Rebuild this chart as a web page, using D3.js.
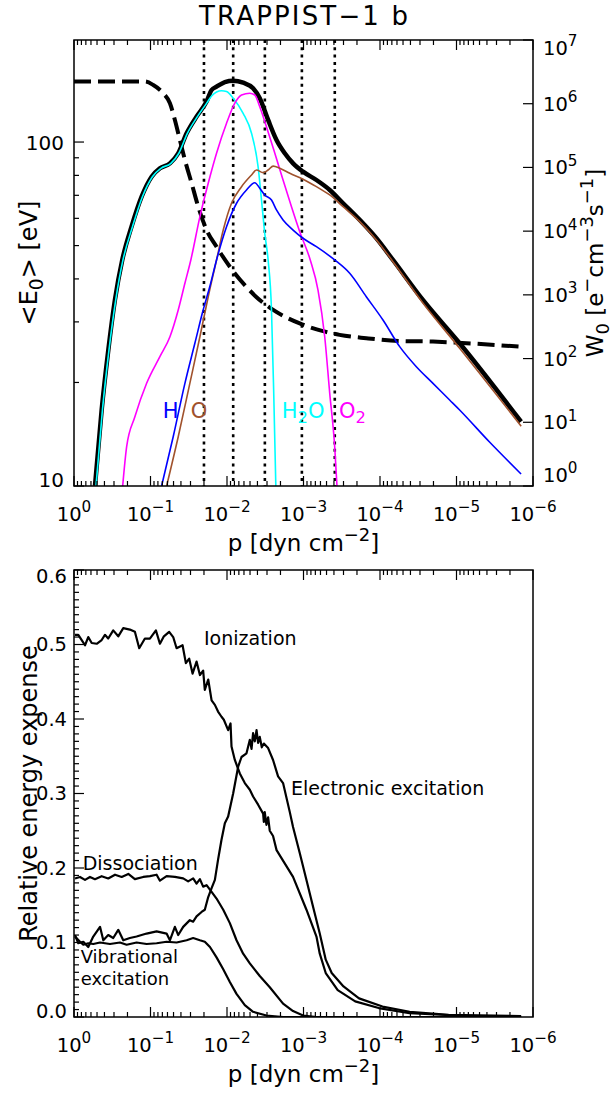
<!DOCTYPE html>
<html lang="en">
<head>
<meta charset="UTF-8">
<title>TRAPPIST-1 b</title>
<script src="https://cdnjs.cloudflare.com/ajax/libs/d3/7.8.5/d3.min.js"></script>
<style>
  body { margin: 0; background: #fff; }
  svg { display: block; font-family: "DejaVu Sans", sans-serif; }
</style>
</head>
<body>
<svg id="chart" width="612" height="1095"></svg>
<script>
// ---------- data (pressure in dyn cm^-2) ----------
const pressureMajor = [1, 1e-1, 1e-2, 1e-3, 1e-4, 1e-5, 1e-6];
const pressureExp = ["0", "\u22121", "\u22122", "\u22123", "\u22124", "\u22125", "\u22126"];
const energyTicks = [10, 100];
const rateTicks = [1, 1e1, 1e2, 1e3, 1e4, 1e5, 1e6, 1e7];
const rateExp = ["0", "1", "2", "3", "4", "5", "6", "7"];
const fractionTicks = [0, 0.1, 0.2, 0.3, 0.4, 0.5, 0.6];
const layerPressures = [0.02, 0.0083, 0.0032, 0.00105, 0.00039];

// mean electron energy <E0> [eV]  (dashed, left axis)
const meanEnergy = [
  [1, 150], [0.2, 150], [0.118, 150], [0.092, 146.5], [0.0682, 138.6], [0.0557, 129.6],
  [0.048, 115.9], [0.0413, 101.4], [0.0355, 88.7], [0.029, 75.9], [0.0238, 64.9],
  [0.0185, 55.5], [0.0137, 49.6], [0.00918, 43.4], [0.00556, 37.9], [0.00411, 35.4],
  [0.00249, 32.5], [0.00112, 29.7], [0.000555, 28.2], [0.000337, 27.5], [0.000151, 26.9],
  [5.53e-5, 26.4], [2.03e-5, 26.3], [9.6e-6, 26.1], [1.43e-6, 25.4]
];

// production rates W0 [e- cm^-3 s^-1]  (right axis)
const totalRate = [
  [0.532, 1.0], [0.435, 15.6], [0.356, 136], [0.292, 830], [0.234, 3530], [0.177, 11750],
  [0.1306, 34750], [0.0967, 71600], [0.0753, 97000], [0.0557, 116000], [0.0434, 167000],
  [0.0337, 343000], [0.025, 627000], [0.0185, 1.08e6], [0.0159, 1.64e6], [0.0137, 1.85e6],
  [0.01067, 2.19e6], [0.0083, 2.30e6], [0.00615, 2.14e6], [0.00456, 1.75e6], [0.00373, 1.22e6],
  [0.0029, 556000], [0.002255, 270000], [0.001757, 167000], [0.001368, 116000],
  [0.001014, 85800], [0.000678, 63500], [0.000454, 44300], [0.000304, 27400],
  [0.000184, 15000], [0.0001114, 7730], [6.77e-5, 3530], [2.75e-5, 830], [9.1e-6, 174],
  [1.43e-6, 10.2]
];
const h2oRate = [
  [0.516, 1], [0.425, 15.6], [0.349, 136], [0.285, 830], [0.229, 3530], [0.172, 11750],
  [0.1276, 34750], [0.0944, 71600], [0.0731, 97000], [0.0541, 116000], [0.0426, 167000],
  [0.033, 343000], [0.0244, 627000], [0.01834, 1.03e6], [0.0159, 1.32e6], [0.0137, 1.53e6],
  [0.01178, 1.60e6], [0.01014, 1.55e6], [0.0083, 1.22e6], [0.00615, 7.08e5], [0.00478, 3.44e5],
  [0.00392, 1.02e5], [0.00354, 3.08e4], [0.00321, 9250], [0.0029, 3530], [0.00262, 578],
  [0.00245, 28.5], [0.0023, 1]
];
const o2Rate = [
  [0.231, 1], [0.205, 4.14], [0.16, 12.2], [0.1124, 40.9], [0.0754, 107], [0.0557, 220],
  [0.0434, 578], [0.0355, 1520], [0.0297, 3530], [0.0226, 16900], [0.0176, 56400],
  [0.0137, 167000], [0.01014, 493000], [0.0079, 1.02e6], [0.00646, 1.37e6], [0.00503, 1.46e6],
  [0.00433, 1.37e6], [0.00373, 8.98e5], [0.00305, 4.36e5], [0.00237, 1.67e5], [0.00185, 6.35e4],
  [0.001436, 2.42e4], [0.00112, 9820], [0.000816, 3530], [0.000646, 1190], [0.000528, 220],
  [0.000454, 28.5], [0.000391, 4.14], [0.000365, 1]
];
const hRate = [
  [0.0716, 1], [0.0505, 5.94], [0.0355, 40.9], [0.0263, 174], [0.0205, 578], [0.0168, 1340],
  [0.0137, 3530], [0.01014, 11750], [0.0075, 27400], [0.00556, 44300], [0.00433, 57600],
  [0.00373, 47100], [0.00321, 37000], [0.00262, 30800], [0.002255, 21500], [0.00185, 15000],
  [0.001368, 10400], [0.001014, 7730], [0.000678, 5700], [0.000391, 3530], [0.000249, 2180],
  [0.000151, 935], [9.14e-5, 403], [5.53e-5, 154], [3.35e-5, 74.6], [2.03e-5, 40.9],
  [1.23e-5, 22.4], [9.1e-6, 15.6], [3.7e-6, 4.9], [1.43e-6, 1.54]
];
const oRate = [
  [0.0616, 1], [0.0434, 5.94], [0.0306, 40.9], [0.0226, 220], [0.0176, 935], [0.0137, 3530],
  [0.0112, 10400], [0.00873, 27400], [0.00646, 49900], [0.00478, 76100], [0.00411, 91200],
  [0.00337, 82800], [0.0029, 91200], [0.00249, 105000], [0.00204, 97000], [0.00151, 80900],
  [0.001014, 65200], [0.000678, 49900], [0.000454, 37000], [0.000304, 24200], [0.000184, 14100],
  [0.0001114, 7270], [6.77e-5, 3320], [2.75e-5, 745], [9.1e-6, 145], [1.43e-6, 8.7]
];

// relative energy expense (bottom panel)
const ionization = [
  [0.970, 0.513], [0.879, 0.513], [0.793, 0.506], [0.718, 0.499], [0.651, 0.510], [0.587, 0.502],
  [0.505, 0.501], [0.435, 0.506], [0.394, 0.513], [0.357, 0.508], [0.307, 0.519], [0.264, 0.511],
  [0.227, 0.522], [0.186, 0.520], [0.160, 0.517], [0.1404, 0.495], [0.1183, 0.508], [0.1018, 0.508],
  [0.0850, 0.519], [0.0753, 0.501], [0.0668, 0.511], [0.0570, 0.517], [0.0505, 0.510], [0.0456, 0.495],
  [0.0381, 0.499], [0.0345, 0.475], [0.0312, 0.481], [0.0282, 0.461], [0.0250, 0.477], [0.0226, 0.459],
  [0.0205, 0.465], [0.0195, 0.439], [0.0176, 0.453], [0.0159, 0.425], [0.0144, 0.419], [0.0131, 0.410],
  [0.0118, 0.403], [0.0110, 0.399], [0.00966, 0.385], [0.00899, 0.394], [0.00873, 0.363],
  [0.00790, 0.345], [0.00680, 0.327], [0.00585, 0.314], [0.00503, 0.305], [0.00456, 0.296],
  [0.00392, 0.285], [0.00337, 0.273], [0.00330, 0.262], [0.00321, 0.275], [0.00305, 0.258],
  [0.00290, 0.268], [0.00276, 0.250], [0.00250, 0.243], [0.00225, 0.224], [0.00137, 0.188],
  [0.000915, 0.144], [0.000677, 0.108], [0.000613, 0.085], [0.000512, 0.059], [0.000357, 0.036],
  [0.000211, 0.021], [0.000104, 0.012], [4.10e-5, 0.005], [6.95e-6, 0.0013], [1.43e-6, 0.0005]
];
const electronic = [
  [0.970, 0.110], [0.879, 0.099], [0.756, 0.101], [0.651, 0.094], [0.560, 0.108], [0.457, 0.121],
  [0.414, 0.103], [0.357, 0.110], [0.307, 0.106], [0.264, 0.117], [0.227, 0.103], [0.186, 0.106],
  [0.152, 0.108], [0.1124, 0.112], [0.0832, 0.115], [0.0616, 0.112], [0.0558, 0.103], [0.0480, 0.121],
  [0.0434, 0.110], [0.0374, 0.121], [0.0306, 0.130], [0.0277, 0.128], [0.0250, 0.135], [0.0215, 0.141],
  [0.0195, 0.144], [0.0176, 0.161], [0.0159, 0.173], [0.0144, 0.184], [0.0131, 0.211], [0.0118, 0.238],
  [0.01067, 0.260], [0.00966, 0.269], [0.00831, 0.300], [0.00715, 0.336], [0.00646, 0.349],
  [0.00556, 0.354], [0.00503, 0.372], [0.00478, 0.360], [0.00456, 0.381], [0.00433, 0.370],
  [0.00411, 0.385], [0.00392, 0.368], [0.00373, 0.376], [0.00351, 0.362], [0.00330, 0.367],
  [0.00290, 0.361], [0.00250, 0.345], [0.00215, 0.323], [0.00185, 0.314], [0.00151, 0.275],
  [0.00137, 0.255], [0.00112, 0.220], [0.000915, 0.184], [0.000750, 0.148], [0.000613, 0.112],
  [0.000512, 0.077], [0.000428, 0.059], [0.000300, 0.041], [0.000188, 0.025], [9.28e-5, 0.014],
  [4.10e-5, 0.007], [1.27e-5, 0.003], [1.43e-6, 0.0013]
];
const dissociation = [
  [0.970, 0.186], [0.835, 0.188], [0.718, 0.184], [0.618, 0.188], [0.532, 0.185], [0.435, 0.189],
  [0.357, 0.186], [0.291, 0.191], [0.238, 0.188], [0.195, 0.192], [0.160, 0.185], [0.1245, 0.188],
  [0.1018, 0.189], [0.0832, 0.191], [0.0753, 0.183], [0.0616, 0.189], [0.0480, 0.188], [0.0374, 0.186],
  [0.0322, 0.182], [0.0277, 0.186], [0.0250, 0.179], [0.0226, 0.185], [0.0205, 0.175], [0.0185, 0.177],
  [0.0159, 0.168], [0.0137, 0.159], [0.0112, 0.144], [0.00918, 0.126], [0.00751, 0.103],
  [0.00615, 0.085], [0.00503, 0.072], [0.00373, 0.055], [0.00276, 0.040], [0.00185, 0.018],
  [0.00137, 0.008], [0.001013, 0.002], [0.000677, 0], [1.43e-6, 0]
];
const vibrational = [
  [0.970, 0.108], [0.835, 0.101], [0.756, 0.097], [0.651, 0.099], [0.560, 0.098], [0.457, 0.100],
  [0.339, 0.098], [0.251, 0.100], [0.205, 0.097], [0.152, 0.100], [0.1124, 0.098], [0.0832, 0.099],
  [0.0616, 0.101], [0.0456, 0.100], [0.0337, 0.103], [0.0277, 0.106], [0.0226, 0.103], [0.0195, 0.101],
  [0.0167, 0.094], [0.0137, 0.080], [0.0112, 0.064], [0.00918, 0.047], [0.00751, 0.031],
  [0.00585, 0.016], [0.00456, 0.007], [0.00305, 0.002], [0.00185, 0], [1.43e-6, 0]
];

// ---------- layout ----------
const svg = d3.select("#chart");
const L = 74, R = 533;
const top1 = 40, bot1 = 486, top2 = 570, bot2 = 1017;

const x = d3.scaleLog().domain([1, 1e-6]).range([L, R]);
const yE = d3.scaleLog().domain([10, 198]).range([bot1, top1]);
const yW = d3.scaleLog().domain([1, 1e7]).range([bot1, top1]);
const yF = d3.scaleLinear().domain([0, 0.6]).range([bot2, top2]);

// text with super/subscripts
function rich(sel, px, py, parts, size, anchor, rotate) {
  const t = sel.append("text").attr("font-size", size).attr("text-anchor", anchor || "start");
  if (rotate) t.attr("transform", `translate(${px},${py}) rotate(${rotate})`);
  else t.attr("x", px).attr("y", py);
  let shift = 0;
  parts.forEach(([s, kind]) => {
    const target = kind === "sup" ? -0.44 * size : kind === "sub" ? 0.26 * size : 0;
    t.append("tspan").attr("dy", target - shift)
      .attr("font-size", kind ? size * 0.78 : size).text(s);
    shift = target;
  });
  return t;
}

function tick(g, x1, y1, x2, y2) {
  g.append("line").attr("x1", x1).attr("y1", y1).attr("x2", x2).attr("y2", y2)
    .attr("stroke", "#000").attr("stroke-width", 1.2);
}

function pressureAxis(yt, yb) {
  const g = svg.append("g");
  pressureMajor.forEach((p, i) => {
    tick(g, x(p), yb, x(p), yb - 10);
    tick(g, x(p), yt, x(p), yt + 10);
    rich(g, x(p), yb + 34.5, [["10"], [pressureExp[i], "sup"]], 19.5, "middle");
  });
  for (let k = 1; k <= 6; k++) {
    for (let m = 2; m <= 9; m++) {
      const p = m * Math.pow(10, -k);
      tick(g, x(p), yb, x(p), yb - 5);
      tick(g, x(p), yt, x(p), yt + 5);
    }
  }
  rich(g, (L + R) / 2, yb + 65, [["p [dyn cm"], ["\u22122", "sup"], ["]"]], 23, "middle");
}

// ---------- top panel ----------
svg.append("defs").html(
  `<clipPath id="c1"><rect x="${L}" y="${top1}" width="${R - L}" height="${bot1 - top1}"/></clipPath>` +
  `<clipPath id="c2"><rect x="${L}" y="${top2}" width="${R - L}" height="${bot2 - top2}"/></clipPath>`);

svg.append("text").attr("x", (L + R) / 2).attr("y", 25).attr("text-anchor", "middle")
  .attr("font-size", 26).attr("textLength", 209).attr("lengthAdjust", "spacing")
  .text("TRAPPIST\u22121 b");

const p1 = svg.append("g").attr("clip-path", "url(#c1)");

p1.selectAll("line.layer").data(layerPressures).join("line")
  .attr("class", "layer")
  .attr("x1", d => x(d)).attr("x2", d => x(d))
  .attr("y1", top1).attr("y2", bot1)
  .attr("stroke", "#000").attr("stroke-width", 2.6).attr("stroke-dasharray", "3,4.3");

const lineW = d3.line().x(d => x(d[0])).y(d => yW(d[1])).curve(d3.curveMonotoneX);
const lineE = d3.line().x(d => x(d[0])).y(d => yE(d[1])).curve(d3.curveMonotoneX);

p1.append("path").attr("d", lineE(meanEnergy)).attr("fill", "none")
  .attr("stroke", "#000").attr("stroke-width", 4).attr("stroke-dasharray", "17,7");

p1.append("path").attr("d", lineW(totalRate)).attr("fill", "none")
  .attr("stroke", "#000").attr("stroke-width", 4.5).attr("stroke-linejoin", "round");

const species = [
  { data: h2oRate, color: "#00ffff" },
  { data: o2Rate, color: "#ff00ff" },
  { data: oRate, color: "#a0522d" },
  { data: hRate, color: "#0000ff" }
];
species.forEach(s => {
  p1.append("path").attr("d", lineW(s.data)).attr("fill", "none")
    .attr("stroke", s.color).attr("stroke-width", 1.6);
});

rich(svg, 162.7, 418, [["H"]], 21).attr("fill", "#0000ff");
rich(svg, 190.7, 418, [["O"]], 21).attr("fill", "#a0522d");
rich(svg, 281.7, 418, [["H"], ["2", "sub"], ["O"]], 21).attr("fill", "#00ffff");
rich(svg, 339, 418, [["O"], ["2", "sub"]], 21).attr("fill", "#ff00ff");

svg.append("rect").attr("x", L).attr("y", top1).attr("width", R - L).attr("height", bot1 - top1)
  .attr("fill", "none").attr("stroke", "#000").attr("stroke-width", 1.5);

pressureAxis(top1, bot1);

// left axis <E0>
const gE = svg.append("g");
energyTicks.forEach(v => {
  tick(gE, L, yE(v), L + 10, yE(v));
  gE.append("text").attr("x", L - 10).attr("y", Math.min(yE(v) + 8, bot1 + 1))
    .attr("text-anchor", "end").attr("font-size", 20).text(v);
});
[20, 30, 40, 50, 60, 70, 80, 90].forEach(v => tick(gE, L, yE(v), L + 5, yE(v)));
rich(gE, 37, (top1 + bot1) / 2, [["<E"], ["0", "sub"], ["> [eV]"]], 24, "middle", -90);

// right axis W0
const gW = svg.append("g");
rateTicks.forEach((v, i) => {
  tick(gW, R, yW(v), R - 10, yW(v));
  const by = Math.max(top1 + 15, Math.min(yW(v) + 7, bot1 - 4));
  rich(gW, R + 10, by, [["10"], [rateExp[i], "sup"]], 19.5, "start");
});
rich(gW, 603, (top1 + bot1) / 2,
  [["W"], ["0", "sub"], [" [e"], ["\u2212", "sup"], ["cm"], ["\u22123", "sup"], ["s"], ["\u22121", "sup"], ["]"]],
  23, "middle", -90);

// ---------- bottom panel ----------
const p2 = svg.append("g").attr("clip-path", "url(#c2)");
const lineF = d3.line().x(d => x(d[0])).y(d => yF(d[1]));
[ionization, electronic, dissociation, vibrational].forEach(s => {
  p2.append("path").attr("d", lineF(s)).attr("fill", "none")
    .attr("stroke", "#000").attr("stroke-width", 2.2).attr("stroke-linejoin", "round");
});

svg.append("rect").attr("x", L).attr("y", top2).attr("width", R - L).attr("height", bot2 - top2)
  .attr("fill", "none").attr("stroke", "#000").attr("stroke-width", 1.5);

pressureAxis(top2, bot2);

const gF = svg.append("g");
fractionTicks.forEach(v => {
  tick(gF, L, yF(v), L + 10, yF(v));
  gF.append("text").attr("x", L - 7)
    .attr("y", Math.max(top2 + 13, Math.min(yF(v) + 6.5, bot2 + 1)))
    .attr("text-anchor", "end").attr("font-size", 19.5).text(v.toFixed(1));
});
d3.range(1, 60).filter(k => k % 10 !== 0).forEach(k => {
  tick(gF, L, yF(k / 100), L + 5, yF(k / 100));
});
rich(gF, 37, (top2 + bot2) / 2, [["Relative energy expense"]], 24, "middle", -90);

const notes = [
  { text: "Ionization", x: 204, y: 645, size: 19 },
  { text: "Electronic excitation", x: 291, y: 795, size: 19 },
  { text: "Dissociation", x: 82.7, y: 870, size: 19 },
  { text: "Vibrational", x: 80.7, y: 963, size: 18 },
  { text: "excitation", x: 80.7, y: 985, size: 18 }
];
svg.selectAll("text.note").data(notes).join("text")
  .attr("class", "note").attr("x", d => d.x).attr("y", d => d.y)
  .attr("font-size", d => d.size).text(d => d.text);
</script>
</body>
</html>
